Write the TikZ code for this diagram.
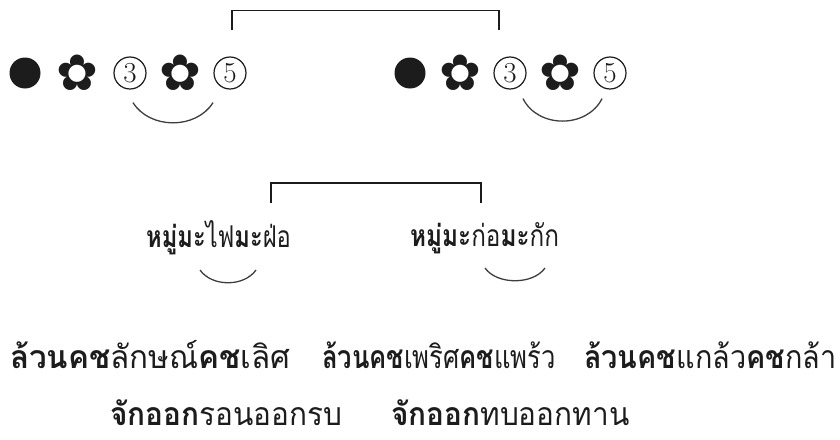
\documentclass[tikz,border=0pt]{standalone}
\usepackage{fontspec}
\newfontfamily\thaifont[Script=Thai]{Loma}
\newfontfamily\symfont{DejaVu Sans}
\usetikzlibrary{calc}
\definecolor{inkblack}{RGB}{28,28,28}
\tikzset{
  base/.style={inner sep=0pt, text=inkblack},
  dotmark/.style={circle, fill=inkblack, minimum size=31pt, inner sep=0pt},
  flower/.style={base, font=\symfont\fontsize{50}{50}\selectfont},
  circnum/.style={base, circle, draw=inkblack, line width=1.2pt, minimum size=32pt, font=\fontsize{29}{29}\selectfont},
  verse/.style={base, anchor=west, font=\thaifont\fontsize{32}{36}\selectfont},
  pair/.style={verse, font=\thaifont\fontsize{30}{34}\selectfont},
  squeeze/.style={xscale=#1, transform shape},
  link/.style={draw=inkblack, line width=1.2pt},
  rhyme/.style={draw=inkblack!85, line width=1.3pt},
}
\newcommand{\kw}[1]{\textbf{#1}}

\begin{document}
\begin{tikzpicture}[x=1pt,y=-1pt]
  \useasboundingbox (0,0) rectangle (840,439);
  % first wak
  \node[dotmark] (a1) at (25,73) {};
  \node[flower]  (a2) at (77,73) {✿};
  \node[circnum] (a3) at (130,73) {3};
  \node[flower]  (a4) at (180,73) {✿};
  \node[circnum] (a5) at (230,73) {5};
  % second wak
  \node[dotmark] (b1) at (410,73) {};
  \node[flower]  (b2) at (460,73) {✿};
  \node[circnum] (b3) at (510,73) {3};
  \node[flower]  (b4) at (560,73) {✿};
  \node[circnum] (b5) at (610,73) {5};
  \draw[link] ($(a5.north)+(2,-26)$) |- ($(b3.north)+(-11,-46)$) -- ++(0,20);
  \draw[rhyme] ($(a3.south)+(3,13)$) .. controls +(17,27) and +(-17,27) .. ($(a5.south)+(-17,13)$);
  \draw[rhyme] ($(b3.south)+(13,9)$) .. controls +(15,30) and +(-15,30) .. ($(b5.south)+(-8,9)$);
  % example words
  \node[pair,squeeze=0.79] (c1) at (146,238) {\kw{หมู่มะ}ไฟ\kw{มะ}ฝ่อ};
  \node[pair,squeeze=0.81] (c2) at (410,238) {\kw{หมู่มะ}ก่อ\kw{มะ}กัก};
  \draw[link] ($(c1.west)+(125,-35)$) |- ($(c2.west)+(71,-55)$) -- ++(0,20);
  \draw[rhyme] ($(c1.west)+(54,32)$) .. controls +(12,17) and +(-12,17) .. ($(c1.west)+(110,32)$);
  \draw[rhyme] ($(c2.west)+(75,30)$) .. controls +(12,17) and +(-12,17) .. ($(c2.west)+(135,30)$);
  % verse lines
  \node[verse,squeeze=0.98] (d1) at (10,355)  {\kw{ล้วนคช}ลักษณ์\kw{คช}เลิศ};
  \node[verse,squeeze=0.80] (d2) at (322,355) {\kw{ล้วนคช}เพริศ\kw{คช}แพร้ว};
  \node[verse,squeeze=0.90] (d3) at (584,355) {\kw{ล้วนคช}แกล้ว\kw{คช}กล้า};
  \node[verse,squeeze=0.93] (e1) at (110,413) {\kw{จักออก}รอนออกรบ};
  \node[verse,squeeze=0.93] (e2) at (391,413) {\kw{จักออก}ทบออกทาน};
\end{tikzpicture}
\end{document}
